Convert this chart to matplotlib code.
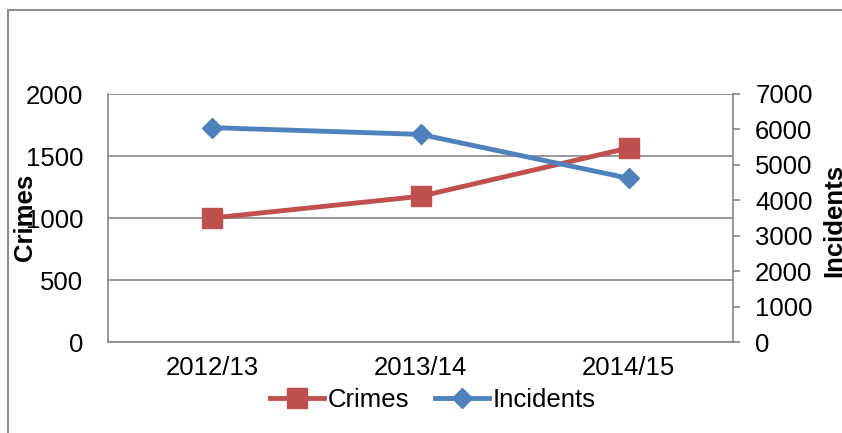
import matplotlib
matplotlib.use("Agg")
import matplotlib.pyplot as plt
from matplotlib.lines import Line2D

plt.rcParams['font.family'] = ['Liberation Sans', 'DejaVu Sans']

years = ['2012/13', '2013/14', '2014/15']
crimes = [1000, 1175, 1565]
incidents = [6050, 5860, 4620]
crime_ticks = [0, 500, 1000, 1500, 2000]
incident_ticks = [0, 1000, 2000, 3000, 4000, 5000, 6000, 7000]

red = '#C0504D'
blue = '#4F81BD'
grey = '#868686'
fs = 18.5

W, H = 842, 433
fig = plt.figure(figsize=(W / 100, H / 100), dpi=100)
ax = fig.add_axes([108 / W, 1 - 342 / H, 625 / W, 248 / H])
ax2 = ax.twinx()

x = range(len(years))
ax.plot(x, crimes, color=red, lw=3.5, marker='s', ms=14, label='Crimes')
ax2.plot(x, incidents, color=blue, lw=3.5, marker='D', ms=10, label='Incidents')

ax.set_xlim(-0.5, len(years) - 0.5)
ax.set_xticks(list(x))
ax.set_xticklabels(years)
ax.set_ylim(0, 2000)
ax.set_yticks(crime_ticks)
ax2.set_ylim(0, 7000)
ax2.set_yticks(incident_ticks)

ax.grid(axis='y', color=grey, lw=1.2)
ax.set_axisbelow(True)
for a in (ax, ax2):
	for s in a.spines.values():
		s.set_visible(False)
ax.spines['left'].set_visible(True)
ax.spines['bottom'].set_visible(True)
ax2.spines['right'].set_visible(True)
for s in ('left', 'bottom'):
	ax.spines[s].set_color(grey)
	ax.spines[s].set_linewidth(1.2)
ax2.spines['right'].set_color(grey)
ax2.spines['right'].set_linewidth(1.2)

ax.tick_params(axis='y', length=0, pad=18, labelsize=fs)
ax.tick_params(axis='x', length=0, pad=10, labelsize=fs)
ax2.tick_params(axis='y', length=5, width=1.2, color=grey, pad=11, labelsize=fs)

fig.text(25 / W, 1 - 217 / H, 'Crimes', rotation=90, ha='center', va='center',
	fontsize=fs, fontweight='bold')
fig.text(834 / W, 1 - 220 / H, 'Incidents', rotation=90, ha='center', va='center',
	fontsize=fs, fontweight='bold')

h1, l1 = ax.get_legend_handles_labels()
h2, l2 = ax2.get_legend_handles_labels()
fig.legend(h1 + h2, l1 + l2, loc='center', bbox_to_anchor=(433 / W, 1 - 400 / H),
	ncol=2, frameon=False, fontsize=fs, handlelength=2.1, handletextpad=0.15,
	columnspacing=1.0, borderpad=0)

# outer frame
fig.add_artist(Line2D([8 / W, 8 / W], [0, 1 - 10 / H], color='#8c8c8c', lw=1.5))
fig.add_artist(Line2D([8 / W, 1], [1 - 10 / H, 1 - 10 / H], color='#8c8c8c', lw=1.5))

fig.savefig('out.png', dpi=100)
